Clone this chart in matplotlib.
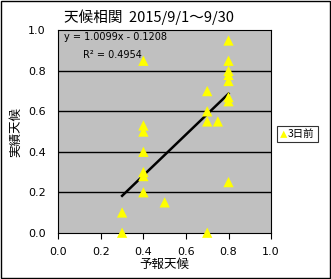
import numpy as np
import matplotlib
matplotlib.use("Agg")
import matplotlib.pyplot as plt
from matplotlib.patches import Rectangle

plt.rcParams['font.family'] = ['Noto Sans CJK JP', 'DejaVu Sans']

# forecast (x) vs actual (y), 3 days ahead
forecast = [0.8, 0.8, 0.8, 0.8, 0.8, 0.8, 0.8, 0.8,
            0.7, 0.7, 0.7, 0.7, 0.75,
            0.4, 0.4, 0.4, 0.4, 0.4, 0.4, 0.4,
            0.5, 0.3, 0.3]
actual = [0.95, 0.85, 0.80, 0.78, 0.75, 0.67, 0.65, 0.25,
          0.70, 0.60, 0.55, 0.0, 0.55,
          0.85, 0.53, 0.50, 0.40, 0.30, 0.28, 0.20,
          0.15, 0.10, 0.0]
slope = 1.0099
intercept = -0.1208
r2 = 0.4954

fig = plt.figure(figsize=(3.31, 2.79), dpi=100)
fig.patch.set_facecolor('white')
fig.add_artist(Rectangle((0.002, 0.002), 0.995, 0.994, transform=fig.transFigure,
                         fill=False, edgecolor='black', linewidth=1))

ax = fig.add_axes([0.176, 0.166, 0.643, 0.725])
ax.set_facecolor('#c0c0c0')
ax.set_xlim(0, 1)
ax.set_ylim(0, 1)

for g in [0.2, 0.4, 0.6, 0.8]:
    ax.axhline(g, color='black', linewidth=1, zorder=1)

xs = np.array([min(forecast), max(forecast)])
ax.plot(xs, slope * xs + intercept, color='black', linewidth=1.8, zorder=2)

ax.scatter(forecast, actual, marker='^', s=55, color='#ffff00', edgecolors='none',
           zorder=3, clip_on=False, label='3日前')

ax.text(0.027, 0.968, 'y = %.4fx - %.4f' % (slope, -intercept), fontsize=7,
        va='center', ha='left', family='DejaVu Sans')
ax.text(0.118, 0.88, 'R² = %.4f' % r2, fontsize=7, va='center', ha='left',
        family='DejaVu Sans')

ticks = [0.0, 0.2, 0.4, 0.6, 0.8, 1.0]
ax.set_xticks(ticks)
ax.set_yticks(ticks)
ax.set_xticklabels(['%.1f' % t for t in ticks], fontsize=8, family='DejaVu Sans')
ax.set_yticklabels(['%.1f' % t for t in ticks], fontsize=8, family='DejaVu Sans')
ax.tick_params(axis='x', direction='out', length=4, width=0.8, pad=6)
ax.tick_params(axis='y', length=0, pad=9)
for s in ax.spines.values():
    s.set_linewidth(0.8)

ax.set_xlabel('予報天候', fontsize=9, labelpad=1)
ax.set_ylabel('実績天候', fontsize=9, labelpad=4)
fig.text(0.193, 0.94, '天候相関  2015/9/1〜9/30', fontsize=10.5, va='center', ha='left')

leg = fig.legend(loc='center', bbox_to_anchor=(297.5 / 331, 1 - 134 / 279),
                 fontsize=7.5, frameon=True, fancybox=False, handlelength=0.6,
                 handletextpad=0.1, borderpad=0.3, markerscale=0.7)
leg.get_frame().set_edgecolor('black')
leg.get_frame().set_linewidth(0.8)

fig.savefig('out.png', dpi=100)
